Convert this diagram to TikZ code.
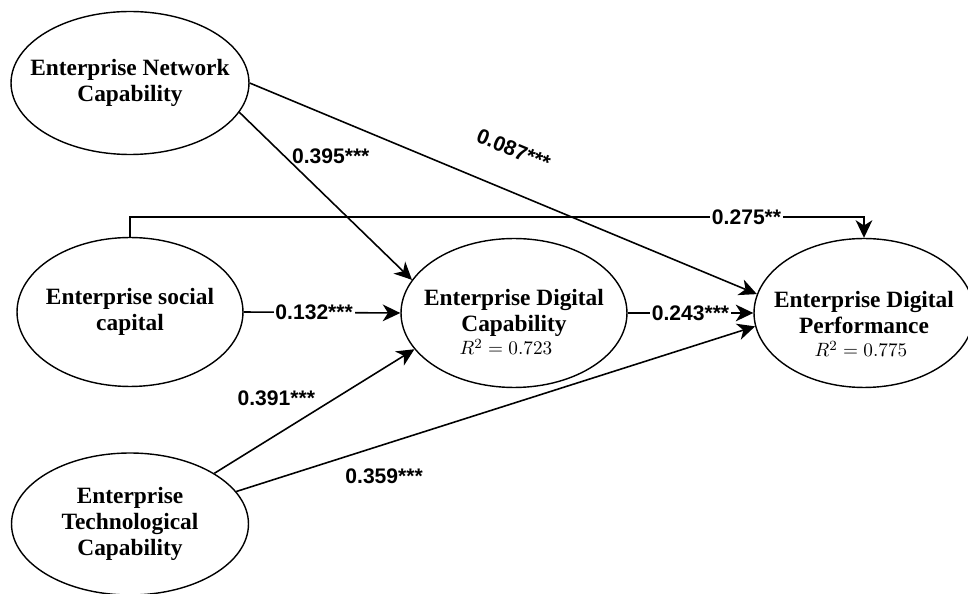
\documentclass[tikz,border=0pt]{standalone}
\usepackage[no-math]{fontspec}
\setmainfont{Liberation Serif}
\newfontfamily\coeffont{Liberation Sans}
\usetikzlibrary{shapes.geometric, arrows.meta}
\tikzstyle{construct} = [ellipse, 
draw=black, 
line width=0.8pt, 
inner xsep=-0.6cm, 
inner ysep=0pt, 
align=center, 
font=\fontsize{13.3}{14.8}\selectfont\bfseries]
\tikzstyle{coef} = [font=\coeffont\bfseries\fontsize{12}{14}\selectfont, 
inner sep=1pt]
\tikzstyle{rsq} = [font=\fontsize{11.2}{13}\selectfont, anchor=base]
\tikzstyle{arrow} = [line width=0.9pt, -{Stealth[length=10pt, width=9.5pt, inset=3pt]}]

\begin{document}
\begin{tikzpicture}[x=0.02cm, y=-0.02cm]
    \useasboundingbox (0,0) rectangle (968,594);
    \node (net) [construct, minimum width=4.76cm, minimum height=2.86cm] at (130,83) {
      Enterprise Network\\Capability
    };
    \node (soc) [construct, minimum width=4.52cm, minimum height=2.98cm] at (130,312) {
      Enterprise social\\capital
    };
    \node (tech) [construct, minimum width=4.74cm, minimum height=2.84cm] at (130,524) {
      Enterprise\\Technological\\Capability
    };
    \node (dcap) [construct, minimum width=4.52cm, minimum height=2.98cm] at (514,313) {
      Enterprise Digital\\Capability
    };
    \node (dperf) [construct, minimum width=4.4cm, minimum height=2.98cm] at (864,313) {
      Enterprise Digital\\Performance
    };
    \node (dcapr) [rsq] at ([xshift=-0.16cm, yshift=-0.84cm]dcap.center) {$R^2 = 0.723$};
    \node (dperfr) [rsq] at ([xshift=-0.06cm, yshift=-0.88cm]dperf.center) {$R^2 = 0.775$};
    
    \draw [arrow] (net.-15) -- node[coef, pos=0.26, right=3pt] {0.395***} (dcap.162);
    \draw [arrow] (net.east) -- node[coef, pos=0.49, sloped, above=0.6cm] {0.087***} (dperf.170);
    \draw [arrow] (soc.north) -- ++(0,-20) -| node[coef, fill=white, pos=0.42] {0.275**} (dperf.north);
    \draw [arrow] (soc.east) -- node[coef, fill=white, pos=0.45] {0.132***} (dcap.west);
    \draw [arrow] (dcap.east) -- node[coef, fill=white] {0.243***} (dperf.west);
    \draw [arrow] (tech.31) -- node[coef, pos=0.31, above=0.54cm] {0.391***} (dcap.200);
    \draw [arrow] (tech.17) -- node[coef, pos=0.285, below=0.44cm] {0.359***} (dperf.187.5);
\end{tikzpicture}
\end{document}
